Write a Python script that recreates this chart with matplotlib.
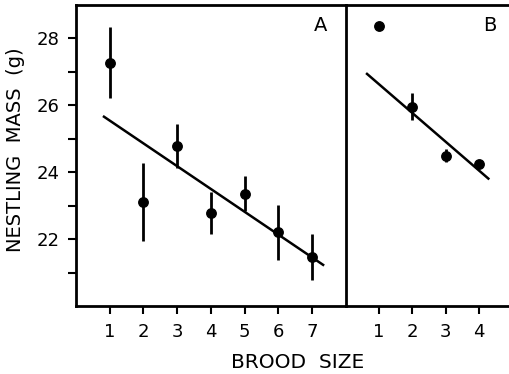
import numpy as np
import matplotlib.pyplot as plt

plt.rcParams['font.family'] = ['DejaVu Sans']

# panel A: brood size 1-7
size_a = [1, 2, 3, 4, 5, 6, 7]
mass_a = [27.28, 23.1, 24.78, 22.78, 23.36, 22.2, 21.46]
err_a = [1.07, 1.17, 0.66, 0.62, 0.52, 0.83, 0.69]
fit_a_x = [0.83, 7.33]
fit_a_y = [25.66, 21.23]

# panel B: brood size 1-4
size_b = [1, 2, 3, 4]
mass_b = [28.38, 25.96, 24.5, 24.26]
err_b = [0.0, 0.4, 0.2, 0.0]
fit_b_x = [0.64, 4.28]
fit_b_y = [26.94, 23.81]

W, H = 509, 374
fig = plt.figure(figsize=(W / 100, H / 100), dpi=100)

x0, xdiv, x1 = 76, 345.7, 509
ytop, ybot = 5, 306
axA = fig.add_axes([x0 / W, 1 - ybot / H, (xdiv - x0) / W, (ybot - ytop) / H])
axB = fig.add_axes([xdiv / W, 1 - ybot / H, (x1 - xdiv) / W, (ybot - ytop) / H])
axB.patch.set_alpha(0)

for ax, xs, ys, es, fx, fy in [(axA, size_a, mass_a, err_a, fit_a_x, fit_a_y),
                               (axB, size_b, mass_b, err_b, fit_b_x, fit_b_y)]:
    ax.errorbar(xs, ys, yerr=es, fmt='o', color='black', ms=6.8,
                elinewidth=2, capsize=0)
    ax.plot(fx, fy, color='black', lw=1.8)
    ax.set_ylim(20, 29)
    for s in ax.spines.values():
        s.set_linewidth(2)
    ax.tick_params(axis='both', direction='out', length=6, width=1.5,
                   labelsize=13, pad=6)

axA.set_xlim(0, 8)
axA.set_xticks(size_a)
axA.set_yticks(np.arange(21, 29, 1))
axA.set_yticklabels(['' if v % 2 else str(v) for v in range(21, 29)])
axA.set_ylabel('NESTLING  MASS  (g)', fontsize=14)
axA.yaxis.set_label_coords(-0.19, 0.52)
axA.text(0.93, 0.965, 'A', transform=axA.transAxes, ha='right', va='top',
         fontsize=14)

axB.set_xlim(0, 4.9)
axB.set_xticks(size_b)
axB.set_yticks([])
axB.spines['left'].set_visible(False)
axB.spines['right'].set_visible(False)
axB.text(0.925, 0.965, 'B', transform=axB.transAxes, ha='right', va='top',
         fontsize=14)

fig.text(298 / W, 1 - 362 / H, 'BROOD  SIZE', ha='center', va='center',
         fontsize=14.5)

fig.savefig('out.png', dpi=100)
